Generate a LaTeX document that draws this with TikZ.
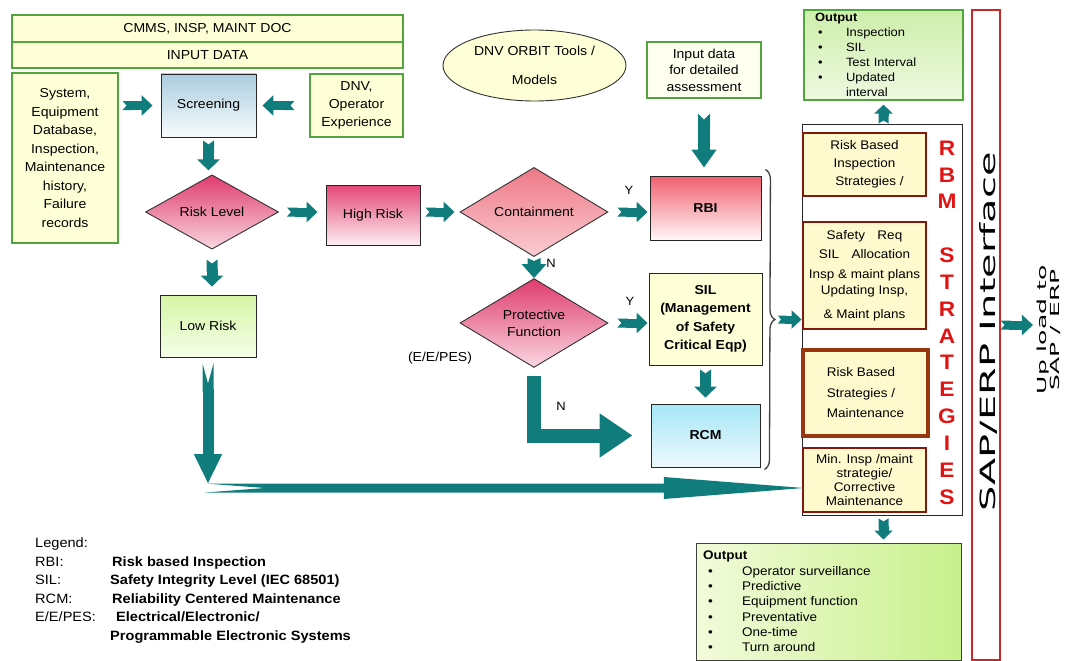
\documentclass[tikz,border=0pt]{standalone}
\usepackage{fontspec}
\setmainfont[FakeStretch=1.08]{Liberation Sans}
\newfontfamily\sapfont{DejaVu Sans}
\usetikzlibrary{shapes.geometric,arrows.meta,decorations.pathreplacing,calc}
\definecolor{tealA}{RGB}{16,124,124}
\definecolor{grnB}{RGB}{80,165,60}
\definecolor{yelL}{RGB}{255,255,215}
\definecolor{redB}{RGB}{130,25,10}
\definecolor{brnB}{RGB}{150,55,15}
\definecolor{yelR}{RGB}{255,250,205}
\definecolor{redT}{RGB}{225,20,20}
\definecolor{sapR}{RGB}{200,40,40}
\definecolor{pkT}{RGB}{222,60,110}
\definecolor{pkB}{RGB}{250,215,225}
\definecolor{hrT}{RGB}{228,70,120}
\definecolor{hrB}{RGB}{252,238,242}
\definecolor{ctT}{RGB}{238,120,135}
\definecolor{ctB}{RGB}{250,205,210}
\definecolor{rbT}{RGB}{240,95,110}
\definecolor{rbB}{RGB}{255,248,248}
\definecolor{scT}{RGB}{170,205,222}
\definecolor{scB}{RGB}{248,252,253}
\definecolor{cyT}{RGB}{165,230,246}
\definecolor{cyB}{RGB}{238,250,253}
\definecolor{lgT}{RGB}{212,245,165}
\definecolor{lgB}{RGB}{246,255,232}
\definecolor{ogT}{RGB}{205,238,170}
\definecolor{ogB}{RGB}{238,249,225}
\definecolor{obL}{RGB}{242,251,218}
\definecolor{obR}{RGB}{200,240,140}
\begin{document}
\begin{tikzpicture}[x=1pt,y=-1pt,
  every node/.style={font=\fontsize{13}{15}\selectfont, inner sep=0pt, align=center},
  gbox/.style={rectangle, draw=grnB, line width=1.2pt, fill=yelL},
  kbox/.style={rectangle, draw=black!85, line width=0.9pt},
  rbox/.style={rectangle, draw=redB, line width=2.5pt, fill=yelR},
  dia/.style={diamond, draw=black!80, line width=0.9pt, inner sep=0pt},
  ah/.style={tealA, line width=9pt, {Triangle Cap[reversed,length=4pt]}-{Triangle[length=11pt,width=20pt]}},
  av/.style={tealA, line width=11pt, {Triangle Cap[reversed,length=4pt]}-{Triangle[length=11pt,width=22pt]}},
  lbl/.style={font=\fontsize{12}{14}\selectfont}
]
\useasboundingbox (0,0) rectangle (1066,661);

% top input data
\node[gbox, minimum width=391pt, minimum height=27pt] (cmms) at (207.5,28.5) {CMMS, INSP, MAINT DOC};
\node[gbox, minimum width=391pt, minimum height=26pt] (inp) at (207.5,55) {INPUT DATA};
\node[gbox, minimum width=106pt, minimum height=170pt, font=\fontsize{13}{18.5}\selectfont] (sys) at (65,158)
  {System,\\Equipment\\Database,\\Inspection,\\Maintenance\\history,\\Failure\\records};
\node[kbox, minimum width=95pt, minimum height=63pt, top color=scT, bottom color=scB] (scr) at (208.5,105.5) {Screening};
\node[gbox, minimum width=93pt, minimum height=63pt, font=\fontsize{13}{18}\selectfont] (dnv) at (356.5,105.5) {DNV,\\Operator\\Experience};

% decision chain
\node[dia, minimum width=133pt, minimum height=72pt, top color=pkT, bottom color=pkB] (risk) at (212,212) {Risk Level};
\node[kbox, minimum width=94pt, minimum height=60pt, top color=hrT, bottom color=hrB] (high) at (373,215) {High Risk};
\node[dia, minimum width=148pt, minimum height=72pt, top color=ctT, bottom color=ctB] (cont) at (534,212) {Containment};
\node[kbox, minimum width=111pt, minimum height=64pt, top color=rbT, bottom color=rbB, font=\bfseries\fontsize{13}{15}\selectfont] (rbi) at (705.5,208) {RBI};
\node[gbox, fill=yelL!40, minimum width=114pt, minimum height=56pt, font=\fontsize{13}{16.5}\selectfont] (inpd) at (704,70) {Input data\\for detailed\\assessment};
\node[ellipse, draw=black!80, line width=0.9pt, fill=yelL, minimum width=183pt, minimum height=71pt, font=\fontsize{13}{29}\selectfont] (orbit) at (534.5,65.5) {DNV ORBIT Tools /\\Models};
\node[dia, minimum width=148pt, minimum height=82pt, top color=pkT, bottom color=pkB, font=\fontsize{13}{17}\selectfont] (prot) at (534,323) {Protective\\Function};
\node[kbox, fill=yelL, minimum width=113pt, minimum height=92pt, font=\bfseries\fontsize{13}{18.5}\selectfont] (sil) at (705.5,319) {SIL\\(Management\\of Safety\\Critical Eqp)};
\node[kbox, minimum width=109pt, minimum height=63pt, top color=cyT, bottom color=cyB, font=\bfseries\fontsize{13}{15}\selectfont] (rcm) at (705.5,435.5) {RCM};
\node[kbox, minimum width=96pt, minimum height=62pt, top color=lgT, bottom color=lgB] (low) at (208,326) {Low Risk};
\node (ees) at (440,358) {(E/E/PES)};
\node[lbl] (y1) at (629,190) {Y};
\node[lbl] (y2) at (630,301) {Y};
\node[lbl] (n1) at (551,263) {N};
\node[lbl] (n2) at (561,406) {N};

% RBM strategies
\node[draw=black!85, line width=0.9pt, minimum width=160pt, minimum height=391pt] (rbm) at (882,319.5) {};
\node[rbox, minimum width=123pt, minimum height=63pt, font=\fontsize{12.5}{18}\selectfont] (rb1) at (864.5,164.5) {Risk Based\\Inspection\\\hspace*{10pt}Strategies /};
\node[rbox, minimum width=123pt, minimum height=107pt, font=\fontsize{12.5}{19.5}\selectfont] (rb2) at (864.5,275.5) {Safety\quad Req\\SIL\quad Allocation\\Insp \&\ maint plans\\[-3pt]Updating Insp,\\[4pt]\& Maint plans};
\node[rbox, draw=brnB, line width=4.5pt, minimum width=125pt, minimum height=86pt, align=left, font=\fontsize{12.5}{20.5}\selectfont] (rb3) at (865.5,393) {Risk Based\\Strategies /\\Maintenance};
\node[rbox, minimum width=123pt, minimum height=64pt, font=\fontsize{12.5}{14}\selectfont] (rb4) at (864.5,480) {Min. Insp /maint\\strategie/\\Corrective\\Maintenance};
\node[anchor=north, text=redT, font=\bfseries\fontsize{21}{26.85}\selectfont] (rbml) at (947,140.5) {R\\B\\M\\[26.85pt]S\\T\\R\\A\\T\\E\\G\\I\\E\\S};

% outputs
\node[draw=grnB, line width=1.2pt, top color=ogT, bottom color=ogB, minimum height=90pt, text width=137pt, inner xsep=11pt, align=left, font=\fontsize{12}{15}\selectfont] (outT) at (883.5,55)
  {{\bfseries Output}\\\hspace*{3pt}\makebox[28pt][l]{\textbullet}Inspection\\\hspace*{3pt}\makebox[28pt][l]{\textbullet}SIL\\\hspace*{3pt}\makebox[28pt][l]{\textbullet}Test Interval\\\hspace*{3pt}\makebox[28pt][l]{\textbullet}Updated\\\hspace*{31pt}interval};
\node[draw=black!75, line width=1pt, left color=obL, right color=obR, minimum height=117pt, text width=251pt, inner xsep=7pt, align=left, font=\fontsize{12.5}{15.3}\selectfont] (outB) at (828.5,601.5)
  {{\bfseries Output}\\\hspace*{5pt}\makebox[34pt][l]{\textbullet}Operator surveillance\\\hspace*{5pt}\makebox[34pt][l]{\textbullet}Predictive\\\hspace*{5pt}\makebox[34pt][l]{\textbullet}Equipment function\\\hspace*{5pt}\makebox[34pt][l]{\textbullet}Preventative\\\hspace*{5pt}\makebox[34pt][l]{\textbullet}One-time\\\hspace*{5pt}\makebox[34pt][l]{\textbullet}Turn around};

% SAP / ERP
\node[draw=sapR, line width=1.2pt, fill=white, minimum width=28pt, minimum height=650pt] (sap) at (986,335) {};
\node[rotate=90] (sapt) at (988,332) {\scalebox{1.9}[1]{\sapfont\fontsize{21}{21}\selectfont SAP/ERP Interface}};
\node[rotate=90, font=\sapfont\fontsize{12.5}{13}\selectfont] (upl) at (1049,330) {\scalebox{2}[1]{Up load to}\\\scalebox{2}[1]{SAP / ERP}};

% legend
\node[anchor=north west, align=left, font=\fontsize{13.5}{18.5}\selectfont] (leg) at (35,538)
  {Legend:\\\makebox[77pt][l]{RBI:}\textbf{Risk based Inspection}\\\makebox[75pt][l]{SIL:}\textbf{Safety Integrity Level (IEC 68501)}\\\makebox[77pt][l]{RCM:}\textbf{Reliability Centered Maintenance}\\\makebox[81pt][l]{E/E/PES:}\textbf{Electrical/Electronic/}\\\hspace*{75pt}\textbf{Programmable Electronic Systems}};

% brace
\coordinate (bt) at ([xshift=4pt,yshift=6pt]rbi.north east);
\coordinate (bb) at ([xshift=4pt,yshift=-2pt]rcm.south east);
\draw[black!75, line width=1.3pt, decorate, decoration={brace, amplitude=10pt}] (bt) -- (bb);
\coordinate (btip) at ($(bt)!0.5!(bb)+(11,0)$);

% arrows
\draw[ah, shorten <=4pt, shorten >=8pt] (sys.east |- scr.west) -- (scr.west);
\draw[ah, shorten <=15pt, shorten >=6pt] (dnv.west) -- (scr.east);
\draw[av, shorten <=3pt, shorten >=4pt] (scr.south) -- (scr.south |- risk.north);
\draw[ah, shorten <=8pt, shorten >=8pt] (risk.east) -- (risk.east -| high.west);
\draw[ah, shorten <=5pt, shorten >=5pt] (high.east |- cont.west) -- (cont.west);
\draw[ah, shorten <=9pt, shorten >=2pt] (cont.east) -- (cont.east -| rbi.west);
\draw[av, line width=12pt, {Triangle Cap[reversed,length=6pt]}-{Triangle[length=18pt,width=24pt]}, shorten <=15pt, shorten >=8pt] (inpd.south) -- (inpd.south |- rbi.north);
\draw[av, line width=13pt, {Triangle Cap[reversed,length=3pt]}-{Triangle[length=14pt,width=24pt]}, shorten <=1pt, shorten >=0pt] (cont.south) -- (cont.south |- prot.north);
\draw[ah, shorten <=9pt, shorten >=1pt] (prot.east) -- (prot.east -| sil.west);
\draw[av, shorten <=4pt, shorten >=6pt] (sil.south) -- (rcm.north);
\draw[av, shorten <=10pt, shorten >=8pt] (risk.south) -- (risk.south |- low.north);
\coordinate (lowend) at ([yshift=-8pt]rb4.west -| low.south);
\coordinate (longtip) at ([yshift=-8pt,xshift=2pt]rb4.west);
\draw[tealA, line width=11pt, {Triangle Cap[reversed,length=20pt]}-{Triangle[length=30pt,width=26pt]}, shorten <=6pt, shorten >=4pt] (low.south) -- (lowend);
\fill[tealA] ($(lowend)+(-3,-4.5)$) -- ($(longtip)+(-140,-4.5)$) -- ($(longtip)+(-140,-11)$) -- (longtip)
  -- ($(longtip)+(-140,11)$) -- ($(longtip)+(-140,4.5)$) -- ($(lowend)+(-3,4.5)$) -- ($(lowend)+(57,0)$) -- cycle;
\draw[tealA, line width=14pt, line join=miter, -{Triangle[length=33pt,width=42pt]}, shorten <=8pt] (prot.south) |- ([xshift=-18pt]rcm.west);
\draw[ah, line width=8pt, {Triangle Cap[reversed,length=3pt]}-{Triangle[length=10pt,width=18pt]}, shorten <=2pt] (btip) -- (btip -| rbm.west);
\draw[av, line width=10pt, {Triangle Cap[reversed,length=3pt]}-{Triangle[length=9pt,width=18pt]}, shorten >=4pt] (outT.south |- rbm.north) -- (outT.south);
\draw[av, line width=10pt, {Triangle Cap[reversed,length=3pt]}-{Triangle[length=9pt,width=18pt]}, shorten <=3pt, shorten >=3pt] (outT.south |- rbm.south) -- (outT.south |- outB.north);
\draw[ah, shorten >=4pt] ([yshift=10pt]sap.east) -- ([yshift=10pt]sap.east -| upl.north);
\end{tikzpicture}
\end{document}
